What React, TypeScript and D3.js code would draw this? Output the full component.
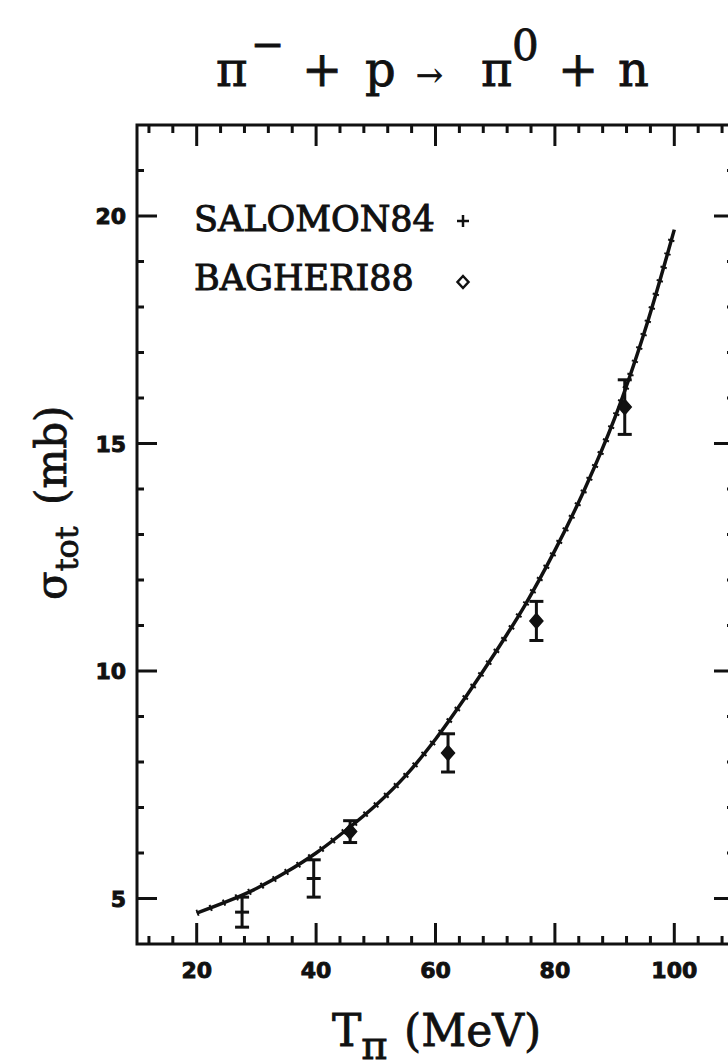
import React, { useEffect, useRef } from 'react';
import * as d3 from 'd3';

// fitted curve (MeV, mb)
const curveEnergy = [20, 25, 30, 35, 40, 45, 50, 55, 60, 65, 70, 75, 80, 85, 90, 95, 100];
const curveSigma = [4.68, 4.93, 5.22, 5.58, 6.0, 6.5, 7.05, 7.7, 8.5, 9.42, 10.4, 11.45, 12.65, 14.0, 15.55, 17.45, 19.7];

// SALOMON84
const salomonEnergy = [27.6, 39.6];
const salomonSigma = [4.7, 5.44];
const salomonErr = [0.33, 0.41];

// BAGHERI88
const bagheriEnergy = [45.7, 62.1, 76.9, 91.7];
const bagheriSigma = [6.47, 8.2, 11.1, 15.8];
const bagheriErr = [0.24, 0.42, 0.43, 0.6];

const xTickLabels = [20, 40, 60, 80, 100];
const yTickLabels = [5, 10, 15, 20];

const W = 728;
const H = 1064;
const margin = { left: 137, right: 734, top: 125, bottom: 944 };

const App = () => {
    const ref = useRef<SVGSVGElement | null>(null);

    useEffect(() => {
        if (!ref.current) return;
        const svg = d3.select(ref.current);
        svg.selectAll('*').remove();

        const x = d3.scaleLinear().domain([10, 110]).range([margin.left, margin.right]);
        const y = d3.scaleLinear().domain([4, 22]).range([margin.bottom, margin.top]);

        const ink = '#111';
        const tickFont = "'DejaVu Sans', sans-serif";
        const serif = "'DejaVu Serif', serif";

        // frame
        svg.append('rect')
            .attr('x', margin.left).attr('y', margin.top)
            .attr('width', margin.right - margin.left)
            .attr('height', margin.bottom - margin.top)
            .attr('fill', 'none').attr('stroke', ink).attr('stroke-width', 3);

        // x ticks, bottom and top
        const g = svg.append('g').attr('stroke', ink).attr('stroke-width', 3);
        d3.range(12, 110, 4).forEach((v) => {
            const len = v % 20 === 0 ? 21 : 8;
            g.append('line').attr('x1', x(v)).attr('x2', x(v))
                .attr('y1', margin.bottom).attr('y2', margin.bottom - len);
            g.append('line').attr('x1', x(v)).attr('x2', x(v))
                .attr('y1', margin.top).attr('y2', margin.top + len);
        });
        // y ticks, left and right
        d3.range(5, 22, 1).forEach((v) => {
            const len = v % 5 === 0 ? 20 : 7;
            g.append('line').attr('y1', y(v)).attr('y2', y(v))
                .attr('x1', margin.left).attr('x2', margin.left + len);
            g.append('line').attr('y1', y(v)).attr('y2', y(v))
                .attr('x1', margin.right).attr('x2', margin.right - len);
        });

        // tick labels
        svg.append('g').selectAll('text').data(xTickLabels).join('text')
            .attr('x', (d) => x(d)).attr('y', 978)
            .attr('text-anchor', 'middle')
            .attr('font-family', tickFont).attr('font-weight', 'bold')
            .attr('font-size', 22).attr('fill', ink)
            .attr('stroke', ink).attr('stroke-width', 0.9)
            .text((d) => d);
        svg.append('g').selectAll('text').data(yTickLabels).join('text')
            .attr('x', 126).attr('y', (d) => y(d) + 8)
            .attr('text-anchor', 'end')
            .attr('font-family', tickFont).attr('font-weight', 'bold')
            .attr('font-size', 22).attr('fill', ink)
            .attr('stroke', ink).attr('stroke-width', 0.9)
            .text((d) => d);

        // curve
        const pts = curveEnergy.map((e, i) => [e, curveSigma[i]] as [number, number]);
        const line = d3.line<[number, number]>()
            .x((d) => x(d[0]))
            .y((d) => y(d[1]))
            .curve(d3.curveCatmullRom);
        svg.append('path').datum(pts)
            .attr('fill', 'none').attr('stroke', ink).attr('stroke-width', 3.5)
            .attr('d', line);
        svg.append('path').datum(pts)
            .attr('fill', 'none').attr('stroke', ink).attr('stroke-width', 6.5)
            .attr('stroke-dasharray', '2 12')
            .attr('d', line);

        // error bars
        const drawErr = (es: number[], ss: number[], errs: number[]) => {
            const eg = svg.append('g').attr('stroke', ink).attr('stroke-width', 3);
            es.forEach((e, i) => {
                const cx = x(e);
                eg.append('line').attr('x1', cx).attr('x2', cx)
                    .attr('y1', y(ss[i] - errs[i])).attr('y2', y(ss[i] + errs[i]));
                [ss[i] - errs[i], ss[i] + errs[i]].forEach((v) => {
                    eg.append('line').attr('x1', cx - 7).attr('x2', cx + 7)
                        .attr('y1', y(v)).attr('y2', y(v));
                });
            });
            return eg;
        };
        const sg = drawErr(salomonEnergy, salomonSigma, salomonErr);
        salomonEnergy.forEach((e, i) => {
            sg.append('line').attr('x1', x(e) - 7).attr('x2', x(e) + 7)
                .attr('y1', y(salomonSigma[i])).attr('y2', y(salomonSigma[i]));
        });
        drawErr(bagheriEnergy, bagheriSigma, bagheriErr);
        svg.append('g').selectAll('path').data(bagheriEnergy).join('path')
            .attr('d', (d, i) => {
                const cx = x(d);
                const cy = y(bagheriSigma[i]);
                return `M${cx},${cy - 7.5}L${cx + 6.5},${cy}L${cx},${cy + 7.5}L${cx - 6.5},${cy}Z`;
            })
            .attr('fill', ink).attr('stroke', ink).attr('stroke-width', 1.5);

        // legend
        svg.append('text').attr('x', 194).attr('y', 231)
            .attr('font-family', serif).attr('font-size', 35).attr('fill', ink)
            .attr('stroke', ink).attr('stroke-width', 1)
            .text('SALOMON84');
        svg.append('text').attr('x', 194).attr('y', 290)
            .attr('font-family', serif).attr('font-size', 35).attr('fill', ink)
            .attr('stroke', ink).attr('stroke-width', 1)
            .text('BAGHERI88');
        const lg = svg.append('g').attr('stroke', ink).attr('stroke-width', 2.5).attr('fill', 'none');
        lg.append('line').attr('x1', 457).attr('x2', 469).attr('y1', 221).attr('y2', 221);
        lg.append('line').attr('x1', 463).attr('x2', 463).attr('y1', 215).attr('y2', 227);
        lg.append('path').attr('d', 'M463,276L468.5,282L463,288L457.5,282Z');

        // axis titles
        const xt = svg.append('text').attr('x', 332).attr('y', 1046)
            .attr('font-family', serif).attr('font-size', 44).attr('fill', ink)
            .attr('stroke', ink).attr('stroke-width', 0.8);
        xt.append('tspan').text('T');
        xt.append('tspan').attr('dy', 13).attr('font-size', 40).text('\u03c0');
        xt.append('tspan').attr('x', 404).attr('dy', -13).text('(MeV)');

        const yt = svg.append('text')
            .attr('transform', 'translate(66,600) rotate(-90)')
            .attr('font-family', serif).attr('font-size', 42).attr('fill', ink)
            .attr('stroke', ink).attr('stroke-width', 0.8);
        yt.append('tspan').text('\u03c3');
        yt.append('tspan').attr('dy', 12).attr('font-size', 32).text('tot');
        yt.append('tspan').attr('x', 95).attr('dy', -12).text('(mb)');

        // title
        const tt = svg.append('text').attr('y', 86)
            .attr('font-family', serif).attr('font-size', 48).attr('fill', ink)
            .attr('stroke', ink).attr('stroke-width', 0.8);
        tt.append('tspan').attr('x', 216).text('\u03c0');
        tt.append('tspan').attr('x', 251).attr('y', 58).attr('font-size', 40).text('\u2212');
        tt.append('tspan').attr('x', 302).attr('y', 86).text('+');
        tt.append('tspan').attr('x', 365).text('p');
        tt.append('tspan').attr('x', 416).attr('font-size', 32).text('\u2192');
        tt.append('tspan').attr('x', 481).text('\u03c0');
        tt.append('tspan').attr('x', 512).attr('y', 60).attr('font-size', 42).text('0');
        tt.append('tspan').attr('x', 558).attr('y', 86).text('+');
        tt.append('tspan').attr('x', 618).text('n');
    }, []);

    return (
        <svg ref={ref} width={W} height={H}
            style={{ position: 'absolute', left: 0, top: 0, background: '#fff' }} />
    );
};

export default App;
